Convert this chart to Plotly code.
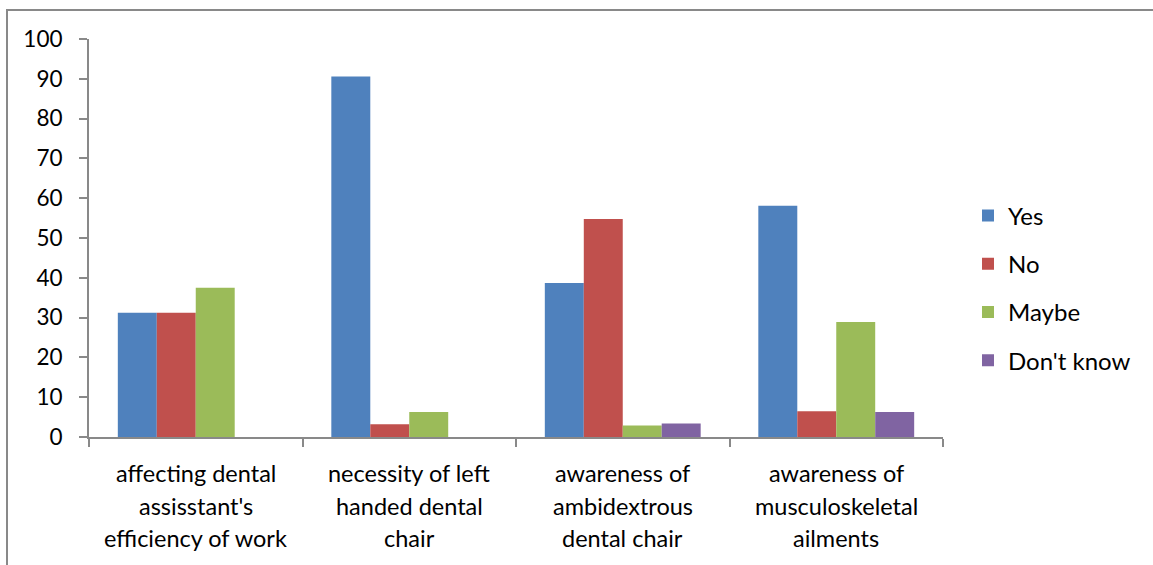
import plotly.graph_objects as go

categories = [
    "affecting dental<br>assisstant's<br>efficiency of work",
    "necessity of left<br>handed dental<br>chair",
    "awareness of<br>ambidextrous<br>dental chair",
    "awareness of<br>musculoskeletal<br>ailments",
]
series_names = ["Yes", "No", "Maybe", "Don't know"]
yes_values = [31.25, 90.6, 38.7, 58.1]
no_values = [31.25, 3.2, 54.8, 6.5]
maybe_values = [37.5, 6.3, 2.9, 28.9]
dontknow_values = [0, 0, 3.4, 6.3]
colors = ["#4F81BD", "#C0504D", "#9BBB59", "#8064A2"]
y_ticks = list(range(0, 101, 10))

W, H = 1153, 565
ML, MR, MT, MB = 89, 210, 39, 128
FONT = "Lato"
AXIS_GRAY = "#898989"

plot_w = W - ML - MR
plot_h = H - MT - MB


def paper_y(px):
    return (H - MB - px) / plot_h


fig = go.Figure()
for name, vals, col in zip(series_names,
                           [yes_values, no_values, maybe_values, dontknow_values],
                           colors):
    fig.add_trace(go.Bar(
        x=categories, y=vals, name=name, legendgroup=name,
        marker=dict(color=col, line=dict(width=0)),
    ))

# category labels, one line per annotation for looser line spacing
line_centers = [473, 506, 538]
for cat in categories:
    for i, line in enumerate(cat.split("<br>")):
        fig.add_annotation(
            x=cat, xref="x", y=paper_y(line_centers[i]), yref="paper",
            text=line, showarrow=False, xanchor="center", yanchor="middle",
            font=dict(family=FONT, size=23.5, color="#000000"),
        )

# outer chart frame (left and top edges visible, the rest runs off the page)
fig.add_shape(
    type="rect", xref="paper", yref="paper",
    x0=(7 - ML) / plot_w, x1=(W + 20 - ML) / plot_w,
    y0=paper_y(H + 20), y1=paper_y(10),
    line=dict(color=AXIS_GRAY, width=2), fillcolor="rgba(0,0,0,0)", layer="below",
)

fig.update_layout(
    width=W, height=H,
    margin=dict(l=ML, r=MR, t=MT, b=MB),
    paper_bgcolor="white", plot_bgcolor="white",
    barmode="group", bargap=0.27, bargroupgap=0,
    font=dict(family=FONT, size=22, color="#000000"),
    showlegend=True,
    legend=dict(
        x=(968 - ML) / plot_w, xanchor="left",
        y=paper_y(288), yanchor="middle",
        font=dict(family=FONT, size=24, color="#000000"),
        tracegroupgap=14, bgcolor="rgba(0,0,0,0)",
    ),
    xaxis=dict(
        type="category", tickson="boundaries", showticklabels=False,
        showline=True, linecolor=AXIS_GRAY, linewidth=2,
        ticks="outside", ticklen=8, tickcolor=AXIS_GRAY, tickwidth=2,
        showgrid=False, zeroline=False,
    ),
    yaxis=dict(
        range=[0, 100], tickvals=y_ticks,
        showline=True, linecolor=AXIS_GRAY, linewidth=2,
        ticks="outside", ticklen=8, tickcolor=AXIS_GRAY, tickwidth=2,
        ticklabelstandoff=12,
        showgrid=False, zeroline=False,
        tickfont=dict(family=FONT, size=22.5, color="#000000"),
    ),
)

fig.write_html("out.html")
